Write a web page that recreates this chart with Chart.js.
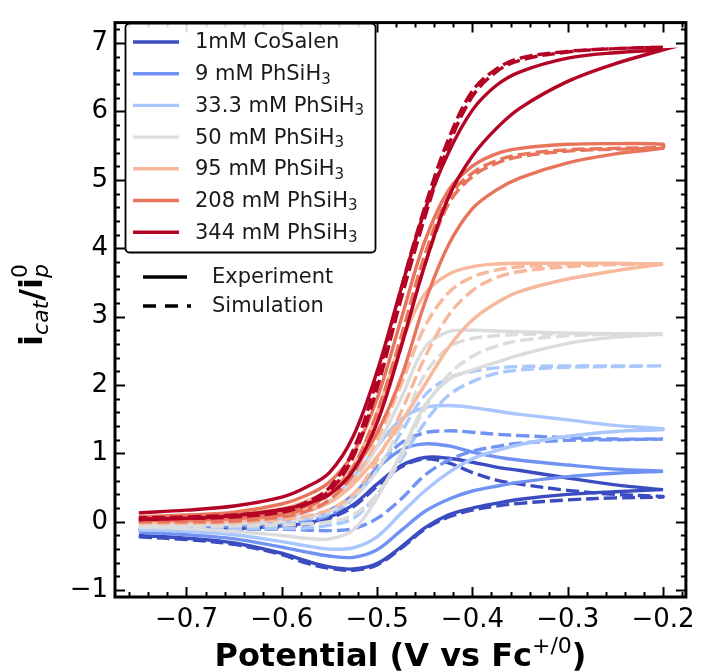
<!DOCTYPE html>
<html>
<head>
<meta charset="utf-8">
<script src="https://cdn.jsdelivr.net/npm/chart.js@4/dist/chart.umd.min.js"></script>
<style>
body { margin: 0; background: #fff; }
canvas { display: block; }
</style>
</head>
<body>
<canvas id="cv" width="703" height="672"></canvas>
<script>
// potential grid (V vs Fc+/0), shared by every branch
const potential = [-0.75, -0.70, -0.65, -0.60, -0.575, -0.55, -0.525, -0.50, -0.475, -0.45, -0.425, -0.40, -0.375, -0.35, -0.30, -0.25, -0.20];

const seriesLabels = ['1mM CoSalen', '9 mM PhSiH₃', '33.3 mM PhSiH₃', '50 mM PhSiH₃', '95 mM PhSiH₃', '208 mM PhSiH₃', '344 mM PhSiH₃'];
const seriesColors = ['#3b4cc0', '#6f92f3', '#aac7fd', '#dddcdc', '#f7b89c', '#e7745b', '#b40426'];

const xTicks = [-0.7, -0.6, -0.5, -0.4, -0.3, -0.2];
const yTicks = [-1, 0, 1, 2, 3, 4, 5, 6, 7];

// experiment, lower branch (one row per concentration)
const expLower = [
  [-0.20, -0.24, -0.31, -0.46, -0.57, -0.66, -0.69, -0.61, -0.37, -0.09, 0.10, 0.20, 0.27, 0.33, 0.40, 0.44, 0.47],
  [-0.15, -0.19, -0.25, -0.37, -0.44, -0.50, -0.52, -0.41, -0.13, 0.15, 0.33, 0.45, 0.52, 0.58, 0.66, 0.71, 0.74],
  [-0.12, -0.14, -0.19, -0.29, -0.35, -0.40, -0.38, -0.22, 0.12, 0.45, 0.72, 0.92, 1.04, 1.13, 1.25, 1.32, 1.35],
  [-0.08, -0.10, -0.14, -0.20, -0.24, -0.25, -0.12, 0.35, 1.00, 1.70, 2.08, 2.22, 2.33, 2.44, 2.61, 2.70, 2.74],
  [0.00, 0.00, 0.02, 0.08, 0.15, 0.28, 0.55, 0.95, 1.45, 2.00, 2.55, 2.95, 3.20, 3.37, 3.55, 3.67, 3.77],
  [0.02, 0.03, 0.05, 0.12, 0.22, 0.40, 0.75, 1.30, 2.10, 3.20, 4.05, 4.58, 4.85, 5.03, 5.25, 5.38, 5.47],
  [0.03, 0.05, 0.09, 0.18, 0.26, 0.40, 0.75, 1.45, 2.55, 3.75, 4.75, 5.35, 5.75, 6.05, 6.44, 6.70, 6.90]
];
// experiment, upper branch
const expUpper = [
  [-0.12, -0.12, -0.10, -0.06, -0.02, 0.07, 0.25, 0.55, 0.82, 0.94, 0.93, 0.87, 0.80, 0.75, 0.64, 0.54, 0.47],
  [-0.10, -0.08, -0.05, 0.00, 0.06, 0.17, 0.40, 0.78, 1.05, 1.14, 1.11, 1.02, 0.95, 0.90, 0.83, 0.77, 0.74],
  [-0.07, -0.05, -0.02, 0.05, 0.14, 0.30, 0.65, 1.10, 1.50, 1.67, 1.70, 1.67, 1.62, 1.57, 1.49, 1.41, 1.36],
  [-0.05, -0.03, 0.00, 0.08, 0.15, 0.30, 0.60, 1.10, 1.80, 2.55, 2.78, 2.80, 2.79, 2.78, 2.76, 2.75, 2.74],
  [0.04, 0.06, 0.10, 0.19, 0.30, 0.46, 0.82, 1.60, 2.60, 3.33, 3.62, 3.73, 3.77, 3.78, 3.78, 3.78, 3.77],
  [0.07, 0.10, 0.14, 0.26, 0.38, 0.58, 1.00, 1.80, 2.95, 4.10, 4.85, 5.20, 5.38, 5.46, 5.52, 5.53, 5.52],
  [0.13, 0.17, 0.23, 0.36, 0.50, 0.72, 1.25, 2.20, 3.40, 4.55, 5.40, 6.02, 6.38, 6.58, 6.78, 6.86, 6.90]
];
// simulation, lower branch
const simLower = [
  [-0.22, -0.26, -0.33, -0.48, -0.60, -0.68, -0.71, -0.63, -0.39, -0.11, 0.07, 0.17, 0.23, 0.27, 0.32, 0.35, 0.36],
  [-0.12, -0.12, -0.11, -0.11, -0.12, -0.13, -0.10, 0.05, 0.33, 0.68, 0.90, 1.03, 1.10, 1.15, 1.19, 1.20, 1.21],
  [-0.10, -0.10, -0.10, -0.10, -0.09, -0.05, 0.05, 0.40, 0.90, 1.45, 1.85, 2.05, 2.17, 2.22, 2.26, 2.27, 2.28],
  [-0.07, -0.07, -0.06, -0.05, -0.03, 0.00, 0.10, 0.40, 0.95, 1.65, 2.15, 2.42, 2.57, 2.65, 2.72, 2.74, 2.75],
  [-0.02, -0.02, -0.01, 0.03, 0.08, 0.18, 0.40, 0.90, 1.60, 2.40, 3.02, 3.38, 3.57, 3.66, 3.73, 3.76, 3.77],
  [0.00, 0.00, 0.01, 0.07, 0.15, 0.32, 0.70, 1.45, 2.55, 3.75, 4.65, 5.05, 5.24, 5.34, 5.42, 5.45, 5.46],
  [0.04, 0.05, 0.07, 0.14, 0.25, 0.45, 0.95, 1.95, 3.25, 4.45, 5.50, 6.22, 6.58, 6.75, 6.87, 6.92, 6.94]
];
// simulation, upper branch
const simUpper = [
  [-0.13, -0.13, -0.12, -0.08, -0.04, 0.05, 0.22, 0.52, 0.80, 0.92, 0.86, 0.72, 0.61, 0.55, 0.46, 0.40, 0.37],
  [-0.10, -0.10, -0.08, -0.05, 0.00, 0.10, 0.35, 0.80, 1.15, 1.30, 1.33, 1.31, 1.28, 1.26, 1.23, 1.21, 1.21],
  [-0.08, -0.07, -0.05, -0.02, 0.04, 0.12, 0.35, 0.75, 1.30, 1.85, 2.10, 2.20, 2.25, 2.27, 2.28, 2.28, 2.28],
  [-0.05, -0.05, -0.03, 0.00, 0.06, 0.15, 0.35, 0.75, 1.40, 2.15, 2.55, 2.68, 2.72, 2.74, 2.75, 2.75, 2.75],
  [0.00, 0.00, 0.02, 0.08, 0.16, 0.30, 0.60, 1.20, 2.00, 2.85, 3.35, 3.58, 3.68, 3.73, 3.76, 3.77, 3.77],
  [0.02, 0.03, 0.05, 0.10, 0.20, 0.40, 0.80, 1.60, 2.70, 3.90, 4.75, 5.10, 5.28, 5.37, 5.44, 5.46, 5.47],
  [0.06, 0.07, 0.10, 0.17, 0.28, 0.50, 1.05, 2.10, 3.40, 4.60, 5.60, 6.30, 6.62, 6.78, 6.88, 6.92, 6.94]
];

const FONT = 'DejaVu Sans';

// one CV loop: lower branch out, upper branch back
function loop(lower, upper) {
  let pts = potential.map((x, i) => ({ x: x, y: lower[i] }));
  for (let i = potential.length - 1; i >= 0; i--) {
    pts.push({ x: potential[i], y: upper[i] });
  }
  return pts;
}

let datasets = [];
for (let k = 0; k < seriesLabels.length; k++) {
  datasets.push({
    label: seriesLabels[k],
    data: loop(expLower[k], expUpper[k]),
    borderColor: seriesColors[k],
    borderWidth: 3.4,
    order: 100 - 2 * k
  });
  datasets.push({
    label: seriesLabels[k] + ' sim',
    data: loop(simLower[k], simUpper[k]),
    borderColor: seriesColors[k],
    borderWidth: 3.4,
    borderDash: [13, 5],
    order: 99 - 2 * k
  });
}

function minusFmt(v, digits) {
  let s = Math.abs(v).toFixed(digits);
  return v < -1e-9 ? '−' + s : s;
}

// text with sub/superscripts, parts = {t, font, dy, adv}
function drawRich(ctx, parts, x, y, align) {
  let w = 0;
  parts.forEach(p => {
    ctx.font = p.font;
    if (p.adv !== false) w += ctx.measureText(p.t).width;
  });
  let cx = align === 'center' ? x - w / 2 : x;
  parts.forEach(p => {
    ctx.font = p.font;
    ctx.fillText(p.t, cx, y + (p.dy || 0));
    if (p.adv !== false) cx += ctx.measureText(p.t).width;
  });
}

function labelParts(text, size) {
  let idx = text.indexOf('₃');
  if (idx < 0) return [{ t: text, font: size + 'px "' + FONT + '"' }];
  return [
    { t: text.slice(0, idx), font: size + 'px "' + FONT + '"' },
    { t: '3', font: Math.round(size * 0.7) + 'px "' + FONT + '"', dy: 5 }
  ];
}

const framePlugin = {
  id: 'frame',
  afterDatasetsDraw(chart) {
    const ctx = chart.ctx;
    const a = chart.chartArea;
    const xs = chart.scales.x, ys = chart.scales.y;
    ctx.save();
    ctx.strokeStyle = '#000';
    ctx.lineWidth = 2;
    ctx.beginPath();
    // x ticks, every 0.02, major every 0.1
    for (let n = -38; n <= -9; n++) {
      let px = Math.round(xs.getPixelForValue(n * 0.02)) + 0.5;
      if (px < a.left || px > a.right) continue;
      let len = (n % 5 === 0) ? 10 : 5;
      ctx.moveTo(px, a.bottom); ctx.lineTo(px, a.bottom - len);
      ctx.moveTo(px, a.top); ctx.lineTo(px, a.top + len);
    }
    // y ticks, every 0.2, major every 1
    for (let n = -5; n <= 36; n++) {
      let py = Math.round(ys.getPixelForValue(n * 0.2)) + 0.5;
      if (py < a.top || py > a.bottom) continue;
      let len = (n % 5 === 0) ? 10 : 5;
      ctx.moveTo(a.left, py); ctx.lineTo(a.left + len, py);
      ctx.moveTo(a.right, py); ctx.lineTo(a.right - len, py);
    }
    ctx.stroke();
    ctx.lineWidth = 3;
    ctx.strokeRect(a.left, a.top, a.right - a.left, a.bottom - a.top);
    ctx.restore();
  },
  afterDraw(chart) {
    const ctx = chart.ctx;
    ctx.save();
    ctx.fillStyle = '#000';
    ctx.textBaseline = 'alphabetic';

    // x axis title
    drawRich(ctx, [
      { t: 'Potential (V vs Fc', font: 'bold 32px "' + FONT + '"' },
      { t: '+/0', font: '22px "' + FONT + '"', dy: -13 },
      { t: ')', font: 'bold 32px "' + FONT + '"' }
    ], (chart.chartArea.left + chart.chartArea.right) / 2, 666, 'center');

    // y axis title, rotated
    ctx.save();
    ctx.translate(42, 305);
    ctx.rotate(-Math.PI / 2);
    drawRich(ctx, [
      { t: 'i', font: 'bold 32px "' + FONT + '"' },
      { t: 'cat', font: 'italic 22px "' + FONT + '"', dy: 6 },
      { t: '/i', font: 'bold 32px "' + FONT + '"' },
      { t: '0', font: '22px "' + FONT + '"', dy: -15, adv: false },
      { t: 'p', font: 'italic 22px "' + FONT + '"', dy: 6 }
    ], 0, 0, 'center');
    ctx.restore();

    // legend box
    ctx.beginPath();
    ctx.roundRect(125.5, 23.5, 250, 229, 4);
    ctx.fillStyle = 'rgba(255,255,255,0.85)';
    ctx.fill();
    ctx.strokeStyle = '#000';
    ctx.lineWidth = 1.8;
    ctx.stroke();

    ctx.textBaseline = 'middle';
    ctx.lineWidth = 3.4;
    for (let k = 0; k < seriesLabels.length; k++) {
      let yy = 42 + k * 31.7;
      ctx.strokeStyle = seriesColors[k];
      ctx.beginPath();
      ctx.moveTo(133, yy); ctx.lineTo(179, yy);
      ctx.stroke();
      ctx.fillStyle = '#1a1a1a';
      drawRich(ctx, labelParts(seriesLabels[k], 21), 195, yy + 1, 'left');
    }

    // line style key
    ctx.strokeStyle = '#000';
    ctx.fillStyle = '#1a1a1a';
    ctx.beginPath();
    ctx.moveTo(143, 277); ctx.lineTo(187, 277);
    ctx.stroke();
    drawRich(ctx, [{ t: 'Experiment', font: '21px "' + FONT + '"' }], 212, 278, 'left');
    ctx.setLineDash([13, 9]);
    ctx.beginPath();
    ctx.moveTo(143, 306); ctx.lineTo(191, 306);
    ctx.stroke();
    ctx.setLineDash([]);
    drawRich(ctx, [{ t: 'Simulation', font: '21px "' + FONT + '"' }], 212, 307, 'left');
    ctx.restore();
  }
};

new Chart(document.getElementById('cv'), {
  type: 'scatter',
  data: { datasets: datasets },
  options: {
    responsive: false,
    animation: false,
    layout: { padding: { left: 0, right: 10, top: 14, bottom: 0 } },
    elements: {
      point: { radius: 0, hoverRadius: 0 },
      line: { tension: 0.35, fill: false }
    },
    datasets: { scatter: { showLine: true } },
    plugins: {
      legend: { display: false },
      tooltip: { enabled: false }
    },
    scales: {
      x: {
        type: 'linear',
        min: -0.775,
        max: -0.176,
        grid: { display: false, drawTicks: false },
        border: { display: false },
        afterBuildTicks: s => { s.ticks = xTicks.map(v => ({ value: v })); },
        afterFit: s => { s.height = 75; },
        ticks: {
          padding: 8,
          color: '#000',
          font: { family: FONT, size: 26 },
          maxRotation: 0,
          callback: v => minusFmt(v, 1)
        }
      },
      y: {
        type: 'linear',
        min: -1.1,
        max: 7.3,
        grid: { display: false, drawTicks: false },
        border: { display: false },
        afterBuildTicks: s => { s.ticks = yTicks.map(v => ({ value: v })); },
        afterFit: s => { s.width = 115; },
        ticks: {
          padding: 7,
          color: '#000',
          font: { family: FONT, size: 26 },
          callback: v => minusFmt(v, 0)
        }
      }
    }
  },
  plugins: [framePlugin]
});
</script>
</body>
</html>
